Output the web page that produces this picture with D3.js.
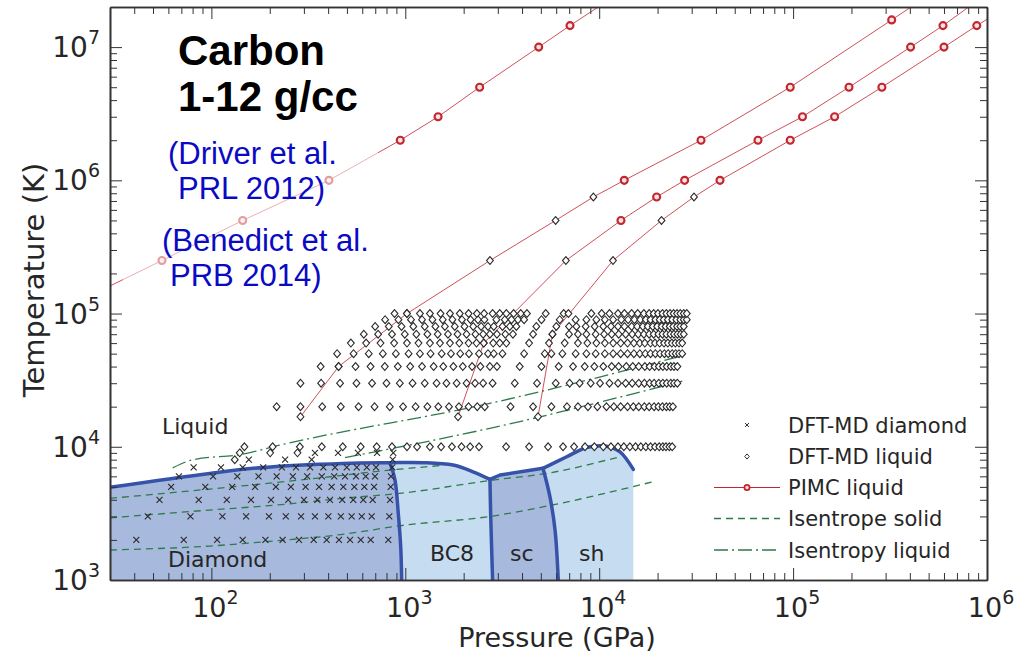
<!DOCTYPE html>
<html>
<head>
<meta charset="utf-8">
<script src="https://cdn.jsdelivr.net/npm/d3@7"></script>
<style>
  body { margin: 0; background: #fff; }
  svg { display: block; }
  text { font-family: "DejaVu Sans", sans-serif; fill: #262626; }
</style>
</head>
<body>
<svg id="chart" width="1025" height="658"></svg>
<script>
// ---------------- data ----------------
const pressureDomain = [30, 1e6];      // GPa
const temperatureDomain = [1e3, 2e7];  // K
const xMajorTicks = [1e2, 1e3, 1e4, 1e5, 1e6];
const yMajorTicks = [1e3, 1e4, 1e5, 1e6, 1e7];

// DFT-MD diamond (solid) runs: pressure (GPa) per temperature (K)
const solidTemps = [2000, 3000, 4000, 5000, 6000, 7000, 8000, 9000];
const solidP2000 = [41, 72, 107, 145, 190, 233, 283, 337, 393, 455, 519, 589, 663, 817];
const solidP3000 = [47, 78, 114, 151, 198, 242, 290, 342, 401, 465, 529, 596, 671, 827];
const solidP4000 = [54, 86, 120, 160, 203, 249, 300, 352, 409, 473, 539, 607, 679, 834];
const solidP5000 = [62, 93, 128, 168, 215, 257, 306, 359, 417, 479, 546, 615, 690, 841];
const solidP6000 = [68, 102, 136, 175, 217, 263, 312, 371, 430, 489, 557, 625, 698, 844];
const solidP7000 = [81, 112, 145, 185, 231, 273, 323, 378, 434, 499, 562, 633, 706, 857];
const solidP8000 = [156, 240, 329, 861];
const solidP9000 = [342, 450, 570, 715, 867];

// DFT-MD liquid runs: pressure (GPa) per temperature (K)
const liquidTemps = [8000, 9000, 1e4, 2e4, 3e4, 4e4, 5e4, 6e4, 7e4, 8e4, 9e4, 1e5];
const liqP8000 = [132];
const liqP9000 = [140, 201, 278];
const liqP1e4 = [148, 207, 286, 371, 476, 589, 712, 854, 1020, 1150, 1340, 1530, 1740, 1950, 2160, 2400, 3310, 4350, 5450, 6510, 7420, 8450, 9440, 10500, 11500, 12500, 13400, 14400, 15400, 16400, 17400, 18400, 19400, 20400, 21300, 22100, 23000, 23800];
const liqP2e4 = [217, 288, 373, 465, 574, 694, 832, 974, 1130, 1300, 1480, 1680, 1890, 2120, 2350, 2570, 3490, 4560, 5670, 6820, 7770, 8750, 9790, 10900, 11900, 12900, 14000, 15000, 16000, 17100, 18100, 19200, 20200, 21200, 22200, 23100, 24000];
const liqP3e4 = [288, 368, 461, 560, 674, 800, 937, 1090, 1260, 1450, 1630, 1840, 2070, 2290, 2520, 2820, 3670, 4780, 5970, 7040, 7930, 9040, 10100, 11300, 12500, 13700, 14800, 16000, 17100, 18200, 19200, 20300, 21300, 22300, 23400, 24300, 25300];
const liqP4e4 = [366, 453, 554, 662, 784, 915, 1060, 1220, 1400, 1570, 1770, 1980, 2210, 2440, 2730, 2970, 3890, 5040, 6180, 7330, 8420, 9440, 10500, 11600, 12600, 13800, 14900, 16000, 17200, 18200, 19300, 20300, 21300, 22300, 23400, 24300, 25300];
const liqP5e4 = [445, 541, 648, 766, 894, 1040, 1190, 1350, 1540, 1720, 1920, 2130, 2400, 2670, 2860, 3170, 4100, 5240, 5670, 6460, 7560, 8590, 9590, 10700, 11800, 12900, 14000, 15100, 16200, 17300, 18400, 19500, 20600, 21700, 22700, 23800, 24800, 25800, 26800];
const liqP6e4 = [524, 628, 745, 876, 1020, 1170, 1340, 1510, 1700, 1900, 2120, 2330, 2540, 2840, 3070, 3320, 4350, 5510, 6640, 7770, 8690, 9670, 10700, 11800, 12900, 14000, 15100, 16200, 17200, 18400, 19400, 20500, 21600, 22600, 23700, 24700, 25800, 26800];
const liqP7e4 = [611, 724, 854, 994, 1140, 1300, 1470, 1660, 1860, 2070, 2300, 2520, 2730, 2970, 3280, 3590, 4560, 5740, 6990, 7770, 8590, 9590, 10600, 11600, 12600, 13700, 14800, 15900, 17000, 18100, 19100, 20200, 21200, 22200, 23300, 24300, 25300, 26300, 27300];
const liqP8e4 = [699, 822, 956, 1100, 1260, 1430, 1600, 1800, 2020, 2240, 2460, 2670, 2860, 3170, 3460, 3740, 4740, 6010, 6990, 7630, 8520, 9480, 10500, 11500, 12500, 13500, 14700, 15700, 16800, 17800, 18900, 19900, 21000, 22000, 23100, 24100, 25200, 26200, 27300];
const liqP9e4 = [787, 922, 1070, 1220, 1380, 1560, 1750, 1960, 2170, 2370, 2560, 2950, 3260, 3530, 3810, 4100, 5040, 6260, 7560, 8590, 9670, 10700, 11800, 13000, 14100, 15200, 16300, 17400, 18400, 19500, 20500, 21500, 22600, 23800, 25000, 26200, 27300, 28300];
const liqP1e5 = [880, 1020, 1190, 1340, 1520, 1700, 1910, 2120, 2340, 2550, 2820, 3070, 3320, 3620, 3940, 4240, 5300, 6560, 6940, 9110, 10300, 11300, 12500, 13500, 14700, 15800, 17000, 18100, 19100, 20100, 21200, 22200, 23200, 24200, 25200, 26200, 27300, 28300];

// Isochores joining DFT-MD and PIMC points; the first nDft points are DFT-MD
const isoA_P = [21, 55.6, 145, 404, 942, 1476, 2418, 4876, 7069, 13000];
const isoA_T = [1.25e5, 2.5e5, 5e5, 1e6, 2e6, 3e6, 5e6, 1e7, 1.45e7, 2.6e7];
const isoA_nDft = 0;
const isoB_P = [288, 453, 1020, 2733, 5959, 9332, 13466, 33512, 96650, 322400, 500000];
const isoB_T = [1.68e4, 4e4, 1e5, 2.5e5, 5e5, 7.5e5, 1e6, 2e6, 5e6, 1.6e7, 2.45e7];
const isoB_nDft = 6;
const isoC_P = [1871, 2540, 6733, 12949, 19782, 27577, 65910, 111800, 194200, 403600, 592900, 900000];
const isoC_T = [1.68e4, 6e4, 2.5e5, 5e5, 7.5e5, 1e6, 2e6, 3e6, 5e6, 1e7, 1.45e7, 2.25e7];
const isoC_nDft = 3;
const isoD_P = [4835, 5740, 11780, 20960, 30830, 41980, 96650, 163700, 287000, 600000, 885600, 1.2e6];
const isoD_T = [1.68e4, 7e4, 2.5e5, 5e5, 7.5e5, 1e6, 2e6, 3e6, 5e6, 1e7, 1.45e7, 1.9e7];
const isoD_nDft = 5;

// Isentropes
const isenSolid1_P = [30, 98, 218, 477, 937, 2825, 6042, 18863];
const isenSolid1_T = [1679, 1799, 1972, 2203, 2553, 3020, 3715, 5457];
const isenSolid2_P = [30, 98, 218, 477, 937, 2825, 5343, 12750];
const isenSolid2_T = [2930, 3350, 3655, 4106, 4470, 5623, 6310, 8410];
const isenSolid3_P = [30, 98, 286, 832, 1506];
const isenSolid3_T = [4100, 4816, 5623, 6683, 7220];
const isenLiquid1_P = [63.2, 79.1, 145, 226, 2726, 27577];
const isenLiquid1_T = [6950, 7943, 8810, 10300, 21170, 48700];
const isenLiquid2_P = [489, 2726, 26833];
const isenLiquid2_T = [8300, 13750, 31100];

// Phase boundaries
const meltP = [30, 98, 185, 477, 834, 1233, 1762, 2234, 2733, 3080, 5130, 6800, 8610, 10900, 12800, 15000];
const meltT = [4960, 6310, 7000, 7500, 7590, 7600, 7290, 6490, 5690, 6140, 6890, 8410, 9880, 10100, 9160, 6760];
const diamondBc8P = [834, 885, 920, 947, 958];
const diamondBc8T = [7590, 5620, 3160, 1780, 1000];
const bc8ScP = [2733, 2755, 2820];
const bc8ScT = [5690, 3180, 1000];
const scShP = [5130, 5570, 5920, 6150];
const scShT = [6890, 4220, 2370, 1000];
const shLimitP = 15000;

// ---------------- layout ----------------
const svg = d3.select("#chart");
const pLeft = 110, pRight = 987, pTop = 7, pBottom = 580;
const x = d3.scaleLog().domain(pressureDomain).range([pLeft, pRight]);
const y = d3.scaleLog().domain(temperatureDomain).range([pBottom, pTop]);

const zip = (P, T) => P.map((p, i) => [p, T[i]]);

svg.append("defs").append("clipPath").attr("id", "plotClip")
  .append("rect").attr("x", pLeft).attr("y", pTop).attr("width", pRight - pLeft).attr("height", pBottom - pTop);
const plot = svg.append("g").attr("clip-path", "url(#plotClip)");

// ---------------- phase regions ----------------
const smooth = d3.line().x(d => x(d[0])).y(d => y(d[1])).curve(d3.curveCatmullRom.alpha(0.5));
const straight = d3.line().x(d => x(d[0])).y(d => y(d[1]));
const join = (...parts) => parts.map((p, i) => i === 0 ? p : p.replace(/^M/, "L")).join("") + "Z";

const melt = zip(meltP, meltT);
const meltDiamond = melt.slice(0, 5);
const meltBc8 = melt.slice(4, 9);
const meltSc = melt.slice(8, 11);
const meltSh = melt.slice(10);
const db = zip(diamondBc8P, diamondBc8T);
const bs = zip(bc8ScP, bc8ScT);
const ss = zip(scShP, scShT);
const rev = a => a.slice().reverse();

const darkFill = "#a7b9dc", lightFill = "#c6dcf0";
plot.append("path").attr("fill", darkFill)
  .attr("d", join(smooth(meltDiamond), smooth(db), straight([[pressureDomain[0], 1000], [pressureDomain[0], 1000]])));
plot.append("path").attr("fill", lightFill)
  .attr("d", join(smooth(meltBc8), smooth(bs), smooth(rev(db))));
plot.append("path").attr("fill", darkFill)
  .attr("d", join(straight(meltSc), smooth(ss), smooth(rev(bs))));
plot.append("path").attr("fill", lightFill)
  .attr("d", join(smooth(meltSh), straight([[shLimitP, meltSh[meltSh.length - 1][1]], [shLimitP, 1000]]), smooth(rev(ss))));

// ---------------- isentropes ----------------
const green = "#2f7a4a";
const isenLine = d3.line().x(d => x(d[0])).y(d => y(d[1])).curve(d3.curveMonotoneX);
[[isenSolid1_P, isenSolid1_T], [isenSolid2_P, isenSolid2_T], [isenSolid3_P, isenSolid3_T]].forEach(([P, T]) => {
  plot.append("path").attr("d", isenLine(zip(P, T))).attr("fill", "none")
    .attr("stroke", green).attr("stroke-width", 1.3).attr("stroke-dasharray", "7,5");
});
[[isenLiquid1_P, isenLiquid1_T], [isenLiquid2_P, isenLiquid2_T]].forEach(([P, T]) => {
  plot.append("path").attr("d", isenLine(zip(P, T))).attr("fill", "none")
    .attr("stroke", green).attr("stroke-width", 1.3).attr("stroke-dasharray", "14,4,2,4");
});

// ---------------- phase boundary lines ----------------
const boundaryColor = "#3652a9";
[smooth(melt.slice(0, 9)), straight(meltSc), smooth(meltSh), smooth(db), smooth(bs), smooth(ss)].forEach(d => {
  plot.append("path").attr("d", d).attr("fill", "none").attr("stroke", boundaryColor)
    .attr("stroke-width", 3.5).attr("stroke-linejoin", "round").attr("stroke-linecap", "round");
});

// ---------------- DFT-MD diamond points ----------------
const crossPath = s => `M${-s},${-s}L${s},${s}M${-s},${s}L${s},${-s}`;
const diamondPath = (w, h) => `M0,${-h}L${w},0L0,${h}L${-w},0Z`;
const solidRows = [solidP2000, solidP3000, solidP4000, solidP5000, solidP6000, solidP7000, solidP8000, solidP9000];
const solidPts = solidRows.flatMap((row, i) => row.map(p => [p, solidTemps[i]]));
plot.append("g").selectAll("path").data(solidPts).join("path")
  .attr("transform", d => `translate(${x(d[0])},${y(d[1])})`)
  .attr("d", crossPath(3)).attr("stroke", "#2a2a2a").attr("stroke-width", 1.1).attr("fill", "none");

// ---------------- isochores (PIMC + DFT-MD) ----------------
const red = "#c2262e";
const isochores = [
  [isoA_P, isoA_T, isoA_nDft],
  [isoB_P, isoB_T, isoB_nDft],
  [isoC_P, isoC_T, isoC_nDft],
  [isoD_P, isoD_T, isoD_nDft]
];
isochores.forEach(([P, T]) => {
  plot.append("path").attr("d", straight(zip(P, T))).attr("fill", "none")
    .attr("stroke", red).attr("stroke-width", 1).attr("stroke-opacity", 0.8);
});

// ---------------- DFT-MD liquid points ----------------
const liquidRows = [liqP8000, liqP9000, liqP1e4, liqP2e4, liqP3e4, liqP4e4, liqP5e4, liqP6e4, liqP7e4, liqP8e4, liqP9e4, liqP1e5];
const liquidPts = liquidRows.flatMap((row, i) => row.map(p => [p, liquidTemps[i]]));
isochores.forEach(([P, T, n]) => { for (let i = 0; i < n; i++) liquidPts.push([P[i], T[i]]); });
plot.append("g").selectAll("path").data(liquidPts).join("path")
  .attr("transform", d => `translate(${x(d[0])},${y(d[1])})`)
  .attr("d", diamondPath(3.4, 3.9)).attr("stroke", "#2a2a2a").attr("stroke-width", 1.1).attr("fill", "#fff");

// ---------------- PIMC points ----------------
const pimcPts = isochores.flatMap(([P, T, n]) => zip(P, T).slice(n));
plot.append("g").selectAll("circle").data(pimcPts).join("circle")
  .attr("cx", d => x(d[0])).attr("cy", d => y(d[1])).attr("r", 3.5)
  .attr("fill", "#fbe3e3").attr("stroke", red).attr("stroke-width", 2.1);

// ---------------- annotations ----------------
svg.append("rect").attr("x", 123).attr("y", 128).attr("width", 255).attr("height", 172)
  .attr("fill", "#fff").attr("fill-opacity", 0.55);

const sansBold = "'Liberation Sans', Arial, sans-serif";
svg.append("text").attr("x", 178).attr("y", 65).attr("font-size", 42).attr("font-weight", "bold")
  .style("font-family", sansBold).style("fill", "#000").text("Carbon");
svg.append("text").attr("x", 178).attr("y", 111).attr("font-size", 42).attr("font-weight", "bold")
  .style("font-family", sansBold).style("fill", "#000").text("1-12 g/cc");

const citeLines = [
  ["(Driver et al.", 168, 164],
  ["PRL 2012)", 178, 199],
  ["(Benedict et al.", 162, 251],
  ["PRB 2014)", 170, 286]
];
svg.append("g").selectAll("text").data(citeLines).join("text")
  .attr("x", d => d[1]).attr("y", d => d[2]).attr("font-size", 31)
  .style("font-family", sansBold).style("fill", "#0a0ac4")
  .text(d => d[0]);

const regionLabels = [
  ["Liquid", 162, 434],
  ["Diamond", 168, 567],
  ["BC8", 430, 561],
  ["sc", 510, 561],
  ["sh", 579, 561]
];
svg.append("g").selectAll("text").data(regionLabels).join("text")
  .attr("x", d => d[1]).attr("y", d => d[2]).attr("font-size", 22).text(d => d[0]);

// ---------------- axes ----------------
const minorOf = ([lo, hi]) => {
  const out = [];
  for (let e = Math.floor(Math.log10(lo)); e <= Math.ceil(Math.log10(hi)); e++)
    for (let m = 2; m <= 9; m++) { const v = m * Math.pow(10, e); if (v > lo && v < hi) out.push(v); }
  return out;
};
const xMinor = minorOf(pressureDomain);
const yMinor = minorOf(temperatureDomain);
const axisColor = "#333";

function styleAxis(g) {
  g.selectAll(".domain").attr("stroke", axisColor).attr("stroke-width", 1.6);
  g.selectAll(".tick line").attr("stroke", axisColor).attr("stroke-width", 1);
  g.selectAll(".tick text").remove();
}
const axes = [
  [d3.axisBottom(x), `translate(0,${pBottom})`, xMajorTicks, xMinor],
  [d3.axisTop(x), `translate(0,${pTop})`, xMajorTicks, xMinor],
  [d3.axisLeft(y), `translate(${pLeft},0)`, yMajorTicks, yMinor],
  [d3.axisRight(y), `translate(${pRight},0)`, yMajorTicks, yMinor]
];
axes.forEach(([axis, tr, major, minor]) => {
  svg.append("g").attr("transform", tr)
    .call(axis.tickValues(minor).tickSize(-7).tickSizeOuter(0).tickFormat(""))
    .call(styleAxis);
  svg.append("g").attr("transform", tr)
    .call(axis.tickValues(major).tickSize(-12).tickSizeOuter(0).tickFormat(""))
    .call(styleAxis);
});

// decade tick labels as 10^n
function powLabel(sel, v) {
  sel.append("tspan").text("10");
  sel.append("tspan").attr("dy", -13).attr("font-size", 19).text(Math.round(Math.log10(v)));
}
svg.append("g").selectAll("text").data(xMajorTicks).join("text")
  .attr("x", d => x(d) + 4).attr("y", pBottom + 37).attr("font-size", 27).attr("text-anchor", "middle")
  .each(function(d) { powLabel(d3.select(this), d); });
svg.append("g").selectAll("text").data(yMajorTicks).join("text")
  .attr("x", pLeft - 10).attr("y", d => y(d) + 10).attr("font-size", 28).attr("text-anchor", "end")
  .each(function(d) { powLabel(d3.select(this), d); });

svg.append("text").attr("x", 557).attr("y", 647).attr("font-size", 27).attr("text-anchor", "middle")
  .text("Pressure (GPa)");
svg.append("text").attr("transform", "translate(44,280) rotate(-90)").attr("font-size", 29)
  .attr("text-anchor", "middle").text("Temperature (K)");

// ---------------- legend ----------------
const legendItems = ["DFT-MD diamond", "DFT-MD liquid", "PIMC liquid", "Isentrope solid", "Isentropy liquid"];
const legendY = [425, 456.5, 487.5, 518.5, 550];
const lg = svg.append("g");
legendItems.forEach((label, i) => {
  const cy = legendY[i];
  lg.append("text").attr("x", 788).attr("y", cy + 7.5).attr("font-size", 21).text(label);
  if (i === 0) lg.append("path").attr("transform", `translate(747,${cy})`).attr("d", crossPath(2))
    .attr("stroke", "#333").attr("fill", "none");
  if (i === 1) lg.append("path").attr("transform", `translate(747,${cy})`).attr("d", diamondPath(2.3, 2.6))
    .attr("stroke", "#333").attr("fill", "#fff");
  if (i === 2) {
    lg.append("line").attr("x1", 714).attr("x2", 780).attr("y1", cy).attr("y2", cy).attr("stroke", red).attr("stroke-width", 1);
    lg.append("circle").attr("cx", 747).attr("cy", cy).attr("r", 2.6).attr("fill", "#fbe3e3").attr("stroke", red).attr("stroke-width", 1.8);
  }
  if (i === 3) lg.append("line").attr("x1", 714).attr("x2", 780).attr("y1", cy).attr("y2", cy)
    .attr("stroke", green).attr("stroke-width", 1.3).attr("stroke-dasharray", "7,5");
  if (i === 4) lg.append("line").attr("x1", 714).attr("x2", 780).attr("y1", cy).attr("y2", cy)
    .attr("stroke", green).attr("stroke-width", 1.3).attr("stroke-dasharray", "14,4,2,4");
});
</script>
</body>
</html>
